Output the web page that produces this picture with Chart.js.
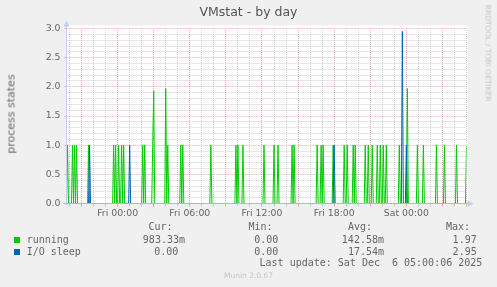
<!DOCTYPE html>
<html><head><meta charset="utf-8">
<script src="https://cdn.jsdelivr.net/npm/chart.js@4"></script>
<style>
html,body{margin:0;padding:0;background:#f0f0f0;}
#wrap{position:relative;width:497px;height:287px;overflow:hidden;background:#f0f0f0;}
canvas{position:absolute;left:0;top:0;}
.t{position:absolute;white-space:pre;color:#666;}
.mono{font-family:'DejaVu Sans Mono',monospace;font-size:10px;line-height:12px;}
.sq{position:absolute;width:6px;height:6px;}
</style></head><body><div id="wrap">
<canvas id="c" width="497" height="287"></canvas>
<div class="t" id="title" style="left:0;width:497px;top:4px;text-align:center;font-family:'DejaVu Sans';font-size:12.5px;line-height:16px;color:#555;">VMstat - by day</div>
<div class="t" style="left:11px;top:114px;font-family:'DejaVu Sans';font-size:11px;line-height:13px;transform:translate(-50%,-50%) rotate(-90deg);">process states</div>
<div class="t" style="left:488px;top:53px;font-family:'DejaVu Sans';font-size:7.5px;line-height:9px;color:#c4c4c4;transform:translate(-50%,-50%) rotate(90deg);">RRDTOOL / TOBI OETIKER</div>

<div class="t mono" style="right:324.5px;top:221.3px;">Cur:</div>
<div class="t mono" style="right:224.5px;top:221.3px;">Min:</div>
<div class="t mono" style="right:125px;top:221.3px;">Avg:</div>
<div class="t mono" style="right:27px;top:221.3px;">Max:</div>

<div class="sq" style="left:14px;top:237px;background:#00cc00;"></div>
<div class="t mono" style="left:26.7px;top:233.7px;">running</div>
<div class="t mono" style="right:312px;top:233.7px;">983.33m</div>
<div class="t mono" style="right:218.7px;top:233.7px;">0.00</div>
<div class="t mono" style="right:113px;top:233.7px;">142.58m</div>
<div class="t mono" style="right:20.3px;top:233.7px;">1.97</div>

<div class="sq" style="left:14px;top:249px;background:#0066b3;"></div>
<div class="t mono" style="left:26.7px;top:245.7px;">I/O sleep</div>
<div class="t mono" style="right:318.7px;top:245.7px;">0.00</div>
<div class="t mono" style="right:218.7px;top:245.7px;">0.00</div>
<div class="t mono" style="right:113px;top:245.7px;">17.54m</div>
<div class="t mono" style="right:20.3px;top:245.7px;">2.95</div>

<div class="t mono" style="right:14.7px;top:257.3px;">Last update: Sat Dec  6 05:00:06 2025</div>
<div class="t" style="left:0;width:497px;top:271px;text-align:center;font-family:'DejaVu Sans';font-size:7.5px;line-height:10px;color:#c4c4c4;">Munin 2.0.67</div>
</div>
<script>
// ---- data ----
const startHour = -4.25;       // Thu 19:45, hours relative to Fri 00:00
const endHour = 29;            // Sat 05:00
const slotHours = 5 / 60;      // one sample every 5 minutes
const slotCount = 400;
const xTickHours = [0, 6, 12, 18, 24];
const xTickLabels = ['Fri 00:00', 'Fri 06:00', 'Fri 12:00', 'Fri 18:00', 'Sat 00:00'];
const yLabelValues = [0, 0.5, 1, 1.5, 2, 2.5, 3];
const yLabelTexts = ['0.0', '0.5', '1.0', '1.5', '2.0', '2.5', '3.0'];

// samples that are not zero (slot number from the start of the graph)
const runningSlots = [1, 6, 8, 10, 22, 47, 49, 52, 55, 57,
                      76, 78, 86, 87, 99, 101, 114, 116, 144, 169,
                      171, 176, 197, 207, 211, 225, 227, 250, 254, 256,
                      266, 277, 280, 286, 288, 298, 301, 305, 310, 313,
                      316, 319, 332, 340, 350, 356, 369, 377, 389, 399];
const runningValues = [1, 1, 1, 1, 1, 1, 1, 1, 1, 1,
                       1, 1, 1, 1.93, 1.97, 1, 1, 1, 1, 1,
                       1, 1, 1, 1, 1, 1, 1, 1, 1, 1,
                       1, 1, 1, 1, 1, 1, 1, 1, 1, 1,
                       1, 1, 1, 1.97, 1, 1, 1, 1, 1, 0.98333];
const ioSlots = [23, 63, 267, 335, 339];
const ioValues = [1, 1, 1, 2.95, 1];

function buildSeries(slots, values) {
  const pts = [];
  for (let i = 0; i < slotCount; i++) pts.push({x: startHour + i * slotHours, y: 0});
  slots.forEach((s, k) => { pts[s].y = values[k]; });
  return pts;
}

const MAJOR = 'rgba(222,120,120,0.6)';
const MINOR = 'rgba(175,175,175,0.6)';
const AXIS = '#a9b4ea';
const FONT = {family: 'DejaVu Sans', size: 9.33};

const frame = {
  id: 'frame',
  beforeDraw(chart) {
    const {ctx, chartArea: a} = chart;
    ctx.save();
    ctx.fillStyle = '#ffffff';
    ctx.fillRect(a.left, a.top - 3, a.right - a.left + 1, a.bottom - a.top + 3);
    ctx.restore();
  },
  afterDatasetsDraw(chart) {
    const {ctx, chartArea: a} = chart;
    ctx.save();
    ctx.lineWidth = 1;
    ctx.strokeStyle = '#c6cef6';
    ctx.beginPath(); ctx.moveTo(a.left, a.bottom + 2); ctx.lineTo(a.left, a.top - 5); ctx.stroke();
    ctx.fillStyle = '#c6cef6';
    ctx.beginPath(); ctx.moveTo(a.left - 3, a.top - 2); ctx.lineTo(a.left + 3, a.top - 2); ctx.lineTo(a.left, a.top - 8); ctx.closePath(); ctx.fill();
    ctx.strokeStyle = AXIS;
    ctx.beginPath(); ctx.moveTo(a.left - 3, a.bottom); ctx.lineTo(a.right + 3, a.bottom); ctx.stroke();
    ctx.fillStyle = '#c6cef6';
    ctx.beginPath(); ctx.moveTo(a.right + 1, a.bottom - 3.5); ctx.lineTo(a.right + 1, a.bottom + 3.5); ctx.lineTo(a.right + 7, a.bottom); ctx.closePath(); ctx.fill();
    ctx.restore();
  }
};

new Chart(document.getElementById('c'), {
  type: 'line',
  data: {
    datasets: [
      {label: 'running', data: buildSeries(runningSlots, runningValues), borderColor: '#00cc00', borderWidth: 1, pointRadius: 0, fill: false, tension: 0, order: 1},
      {label: 'I/O sleep', data: buildSeries(ioSlots, ioValues), borderColor: '#0066b3', borderWidth: 1, pointRadius: 0, fill: false, tension: 0, order: 0}
    ]
  },
  options: {
    responsive: false,
    animation: false,
    events: [],
    layout: {padding: {left: 0, right: 30.5, top: 28.5, bottom: 0}},
    plugins: {legend: {display: false}, title: {display: false}, tooltip: {enabled: false}},
    scales: {
      x: {
        type: 'linear', min: startHour, max: endHour,
        afterBuildTicks: s => { const t = []; for (let h = Math.ceil(startHour); h <= endHour; h++) t.push({value: h}); s.ticks = t; },
        afterFit: s => { s.height = 83.5; },
        ticks: {autoSkip: false, maxRotation: 0, minRotation: 0, padding: 1, color: '#666', font: FONT,
          callback: v => { const k = xTickHours.indexOf(v); return k >= 0 ? xTickLabels[k] : ''; }},
        grid: {lineWidth: 1, drawTicks: true, tickLength: 3,
          color: c => (c.tick && Math.round(c.tick.value) % 3 === 0) ? MAJOR : MINOR,
          tickColor: c => (c.tick && Math.round(c.tick.value) % 3 === 0) ? MAJOR : MINOR},
        border: {display: false, dash: [1, 1], dashOffset: 0.5}
      },
      y: {
        type: 'linear', min: 0, max: 3,
        afterBuildTicks: s => { const t = []; for (let i = 0; i <= 30; i++) t.push({value: i / 10}); s.ticks = t; },
        afterFit: s => { s.width = 66.5; },
        ticks: {autoSkip: false, padding: 4, color: '#666', font: FONT,
          callback: v => { const k = yLabelValues.findIndex(y => Math.abs(y - v) < 1e-6); return k >= 0 ? yLabelTexts[k] : ''; }},
        grid: {lineWidth: 1, drawTicks: true, tickLength: 2,
          color: c => (c.tick && Math.round(c.tick.value * 10) % 5 === 0) ? MAJOR : MINOR,
          tickColor: c => (c.tick && Math.round(c.tick.value * 10) % 5 === 0) ? MAJOR : 'rgba(0,0,0,0)'},
        border: {display: false, dash: [1, 1], dashOffset: 0.5}
      }
    }
  },
  plugins: [frame]
});
</script>
</body></html>
